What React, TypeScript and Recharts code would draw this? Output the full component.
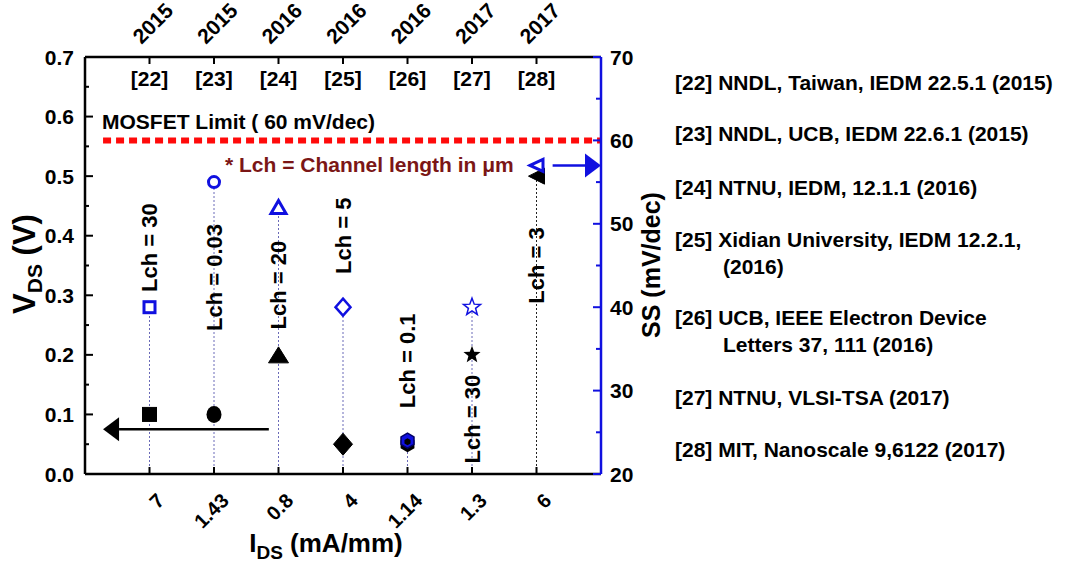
import { ComposedChart, Scatter, XAxis, YAxis, ReferenceLine } from "recharts";

const refs = ["[22]", "[23]", "[24]", "[25]", "[26]", "[27]", "[28]"];
const years = ["2015", "2015", "2016", "2016", "2016", "2017", "2017"];
const idsLabels = ["7", "1.43", "0.8", "4", "1.14", "1.3", "6"];
const categoryIdx = [1, 2, 3, 4, 5, 6, 7];
const vdsValues = [0.1, 0.1, 0.2, 0.05, 0.05, 0.2, 0.5];
const ssValues = [40, 55, 52, 40, 24, 40, 57];
const markerShapes = ["square", "circle", "triangle", "diamond", "hexagon", "star", "leftTriangle"];
const lchLabels = ["Lch = 30", "Lch = 0.03", "Lch = 20", "Lch = 5", "Lch = 0.1", "Lch = 30", "Lch = 3"];
// where each Lch label sits, in V units (left axis)
const lchLabelPos = [0.38, 0.33, 0.317, 0.4, 0.19, 0.092, 0.35];

const leftTicks = [0, 0.05, 0.1, 0.15, 0.2, 0.25, 0.3, 0.35, 0.4, 0.45, 0.5, 0.55, 0.6, 0.65, 0.7];
const rightTicks = [20, 25, 30, 35, 40, 45, 50, 55, 60, 65, 70];
const mosfetLimit = 60;

const references = [
  ["[22] NNDL, Taiwan, IEDM 22.5.1 (2015)"],
  ["[23] NNDL, UCB, IEDM 22.6.1 (2015)"],
  ["[24] NTNU, IEDM, 12.1.1 (2016)"],
  ["[25] Xidian University, IEDM 12.2.1,", "(2016)"],
  ["[26] UCB, IEEE Electron Device", "Letters 37, 111 (2016)"],
  ["[27] NTNU, VLSI-TSA (2017)"],
  ["[28] MIT, Nanoscale 9,6122 (2017)"],
];
const refRows = [[82], [133], [187], [239, 266], [317, 344], [397], [449]];

const FONT = "'Liberation Sans', Arial, sans-serif";
const BLUE = "#1010e0";

const vdsData = categoryIdx.map((x, i) => ({ x, y: vdsValues[i], kind: markerShapes[i] }));
const ssData = categoryIdx.map((x, i) => ({ x, y: ssValues[i], kind: markerShapes[i] }));
const lchData = categoryIdx.map((x, i) => ({ x, y: lchLabelPos[i], text: lchLabels[i] }));

function starPts(cx: number, cy: number, r: number) {
  const pts: string[] = [];
  for (let k = 0; k < 10; k++) {
    const rr = k % 2 === 0 ? r : r * 0.42;
    const a = -Math.PI / 2 + (k * Math.PI) / 5;
    pts.push(`${cx + rr * Math.cos(a)},${cy + rr * Math.sin(a)}`);
  }
  return pts.join(" ");
}

function hexPts(cx: number, cy: number, r: number) {
  const pts: string[] = [];
  for (let k = 0; k < 6; k++) {
    const a = -Math.PI / 2 + (k * Math.PI) / 3;
    pts.push(`${cx + r * Math.cos(a)},${cy + r * Math.sin(a)}`);
  }
  return pts.join(" ");
}

function drawMarker(kind: string, cx: number, cy: number, filled: boolean) {
  const fill = filled ? "#000" : "#fff";
  const stroke = filled ? "#000" : BLUE;
  const sw = filled ? 1 : 3;
  switch (kind) {
    case "square": {
      const r = filled ? 7 : 5.5;
      return <rect x={cx - r} y={cy - r} width={2 * r} height={2 * r} fill={fill} stroke={stroke} strokeWidth={sw} />;
    }
    case "circle":
      return filled ? (
        <ellipse cx={cx} cy={cy} rx={7.5} ry={8.5} fill="#000" />
      ) : (
        <circle cx={cx} cy={cy} r={5.5} fill="#fff" stroke={BLUE} strokeWidth={3} />
      );
    case "triangle": {
      const w = filled ? 10 : 7.5;
      const h = filled ? 8 : 6.5;
      return (
        <polygon
          points={`${cx},${cy - h} ${cx + w},${cy + h} ${cx - w},${cy + h}`}
          fill={fill}
          stroke={stroke}
          strokeWidth={sw}
        />
      );
    }
    case "diamond": {
      const w = filled ? 9.5 : 7.5;
      const h = filled ? 11 : 8.5;
      return (
        <polygon
          points={`${cx},${cy - h} ${cx + w},${cy} ${cx},${cy + h} ${cx - w},${cy}`}
          fill={fill}
          stroke={stroke}
          strokeWidth={filled ? 1 : 2.5}
        />
      );
    }
    case "hexagon":
      return filled ? (
        <polygon points={hexPts(cx, cy, 8)} fill="#000" />
      ) : (
        <g>
          <polygon points={hexPts(cx, cy, 7.5)} fill={BLUE} stroke="#000066" strokeWidth={1.5} />
          <polygon points={hexPts(cx, cy + 1, 3.5)} fill="#000" />
        </g>
      );
    case "star":
      return filled ? (
        <polygon points={starPts(cx, cy, 9)} fill="#000" />
      ) : (
        <polygon points={starPts(cx, cy, 9)} fill="#fff" stroke={BLUE} strokeWidth={1.5} />
      );
    case "leftTriangle": {
      const w = filled ? 8 : 6.5;
      const h = filled ? 8 : 6;
      return (
        <polygon
          points={`${cx - w},${cy} ${cx + w},${cy - h} ${cx + w},${cy + h}`}
          fill={fill}
          stroke={stroke}
          strokeWidth={sw}
        />
      );
    }
    default:
      return <g />;
  }
}

const LeftTick = (props: any) => {
  const { x, y, payload } = props;
  const v = payload.value as number;
  const major = Math.round(v * 100) % 10 === 0;
  return (
    <g>
      <line x1={x} x2={x + (major ? 8 : 4)} y1={y} y2={y} stroke="#000" strokeWidth={2} />
      {major && (
        <text x={x - 11} y={y} dy="0.36em" textAnchor="end" fontSize={21} fontWeight="bold" fontFamily={FONT} fill="#000">
          {v.toFixed(1)}
        </text>
      )}
    </g>
  );
};

const RightTick = (props: any) => {
  const { x, y, payload } = props;
  const v = payload.value as number;
  const major = v % 10 === 0;
  return (
    <g>
      <line x1={x} x2={x - (major ? 8 : 5)} y1={y} y2={y} stroke={BLUE} strokeWidth={2} />
      {major && (
        <text x={x + 9} y={y} dy="0.36em" textAnchor="start" fontSize={21} fontWeight="bold" fontFamily={FONT} fill="#000">
          {v}
        </text>
      )}
    </g>
  );
};

// text slanted at 45 degrees, anchored at (x, y)
const SlantText = ({ x, y, anchor, size, children }: any) => (
  <g transform={`translate(${x} ${y})`}>
    <g transform="rotate(-45)">
      <text x={0} y={0} textAnchor={anchor} fontSize={size} fontWeight="bold" fontFamily={FONT} fill="#000">
        {children}
      </text>
    </g>
  </g>
);

const BottomTick = (props: any) => {
  const x = Number(props.x);
  const y = Number(props.y);
  const i = Number(props.payload.value);
  return (
    <g>
      <line x1={x} x2={x} y1={y} y2={y - 7} stroke="#000" strokeWidth={2} />
      <SlantText x={x + 16} y={y + 28} anchor="end" size={20}>
        {idsLabels[i - 1]}
      </SlantText>
    </g>
  );
};

const TopTick = (props: any) => {
  const x = Number(props.x);
  const y = Number(props.y);
  const i = Number(props.payload.value);
  return (
    <g>
      <line x1={x} x2={x} y1={y} y2={y + 7} stroke="#000" strokeWidth={2} />
      <text x={x} y={y + 29} textAnchor="middle" fontSize={21} fontWeight="bold" fontFamily={FONT} fill="#000">
        {refs[i - 1]}
      </text>
      <SlantText x={x - 8} y={y - 12} anchor="start" size={21}>
        {years[i - 1]}
      </SlantText>
    </g>
  );
};

const arrowShape = (color: string) => (p: any) => {
  const { x1, y1, x2, y2 } = p;
  const dir = x2 > x1 ? 1 : -1;
  const hl = 16;
  return (
    <g>
      <line x1={x1} y1={y1} x2={x2 - dir * hl} y2={y2} stroke={color} strokeWidth={2.5} />
      <polygon points={`${x2},${y2} ${x2 - dir * hl},${y2 - 12} ${x2 - dir * hl},${y2 + 12}`} fill={color} />
    </g>
  );
};

export default function App() {
  return (
    <div style={{ position: "absolute", left: 0, top: 0, width: 1068, height: 565, background: "#fff" }}>
      <ComposedChart width={1068} height={565} margin={{ top: 17, left: 25, right: 407, bottom: 51 }}>
        <XAxis
          xAxisId="bottom"
          orientation="bottom"
          type="number"
          dataKey="x"
          domain={[0, 8]}
          ticks={categoryIdx}
          interval={0}
          height={40}
          tickSize={0}
          tickMargin={0}
          tickLine={false}
          tick={(p: any) => <BottomTick {...p} />}
          axisLine={{ stroke: "#000", strokeWidth: 2.5 }}
        />
        <XAxis
          xAxisId="top"
          orientation="top"
          type="number"
          dataKey="x"
          domain={[0, 8]}
          ticks={categoryIdx}
          interval={0}
          height={40}
          tickSize={0}
          tickMargin={0}
          tickLine={false}
          tick={(p: any) => <TopTick {...p} />}
          axisLine={{ stroke: "#000", strokeWidth: 2.5 }}
        />
        <YAxis
          yAxisId="left"
          type="number"
          domain={[0, 0.7]}
          ticks={leftTicks}
          interval={0}
          width={60}
          tickSize={0}
          tickMargin={0}
          tickLine={false}
          tick={<LeftTick />}
          axisLine={{ stroke: "#000", strokeWidth: 2.5 }}
        />
        <YAxis
          yAxisId="right"
          orientation="right"
          type="number"
          domain={[20, 70]}
          ticks={rightTicks}
          interval={0}
          width={60}
          tickSize={0}
          tickMargin={0}
          tickLine={false}
          tick={<RightTick />}
          axisLine={{ stroke: BLUE, strokeWidth: 2.5 }}
        />

        {categoryIdx.map((x, i) => (
          <ReferenceLine
            key={`drop-${x}`}
            xAxisId="bottom"
            yAxisId="right"
            segment={[
              { x, y: 20 },
              { x, y: ssValues[i] },
            ]}
            stroke={i === 6 ? "#222" : "#6a6ab8"}
            strokeWidth={1}
            strokeDasharray="2 2"
          />
        ))}

        <ReferenceLine
          xAxisId="bottom"
          yAxisId="right"
          segment={[
            { x: 0.28, y: mosfetLimit },
            { x: 8, y: mosfetLimit },
          ]}
          stroke="#ff0a0a"
          strokeWidth={6}
          strokeDasharray="8 5"
        />

        <ReferenceLine
          xAxisId="bottom"
          yAxisId="left"
          segment={[
            { x: 2.85, y: 0.075 },
            { x: 0.28, y: 0.075 },
          ]}
          stroke="#000"
          shape={arrowShape("#000")}
        />
        <ReferenceLine
          xAxisId="bottom"
          yAxisId="right"
          segment={[
            { x: 7.25, y: 57 },
            { x: 8, y: 57 },
          ]}
          stroke={BLUE}
          shape={arrowShape(BLUE)}
        />

        <Scatter
          xAxisId="top"
          yAxisId="left"
          data={lchData}
          dataKey="y"
          isAnimationActive={false}
          shape={(p: any) => (
            <text
              x={p.cx}
              y={p.cy}
              transform={`rotate(-90 ${p.cx} ${p.cy})`}
              textAnchor="middle"
              dy="0.36em"
              fontSize={22}
              fontWeight="bold"
              fontFamily={FONT}
              fill="#000"
            >
              {p.payload.text}
            </text>
          )}
        />
        <Scatter
          xAxisId="bottom"
          yAxisId="left"
          data={vdsData}
          dataKey="y"
          isAnimationActive={false}
          shape={(p: any) => drawMarker(p.payload.kind, p.cx, p.cy, true)}
        />
        <Scatter
          xAxisId="bottom"
          yAxisId="right"
          data={ssData}
          dataKey="y"
          isAnimationActive={false}
          shape={(p: any) => drawMarker(p.payload.kind, p.cx, p.cy, false)}
        />
      </ComposedChart>

      <svg
        width={1068}
        height={565}
        style={{ position: "absolute", left: 0, top: 0, pointerEvents: "none" }}
        fontFamily={FONT}
        fontWeight="bold"
      >
        <text x={102} y={129} fontSize={21} fill="#000">
          MOSFET Limit ( 60 mV/dec)
        </text>
        <text x={225} y={172} fontSize={21} fill="#7b1616">
          * Lch = Channel length in μm
        </text>

        <text x={24} y={264} transform="rotate(-90 24 264)" textAnchor="middle" dy="0.36em" fontSize={31} fill="#000">
          V<tspan dy={7} fontSize={21}>DS</tspan>
          <tspan dy={-7}> (V)</tspan>
        </text>
        <text x={651} y={265} transform="rotate(-90 651 265)" textAnchor="middle" dy="0.36em" fontSize={25} fill="#000">
          SS (mV/dec)
        </text>
        <text x={326} y={552} textAnchor="middle" fontSize={26} fill="#000">
          I<tspan dy={7} fontSize={19}>DS</tspan>
          <tspan dy={-7}> (mA/mm)</tspan>
        </text>

        {references.map((lines, i) =>
          lines.map((line, j) => (
            <text key={`${i}-${j}`} x={j === 0 ? 675 : 723} y={refRows[i][j]} dy="0.36em" fontSize={21} fill="#000">
              {line}
            </text>
          ))
        )}
      </svg>
    </div>
  );
}
